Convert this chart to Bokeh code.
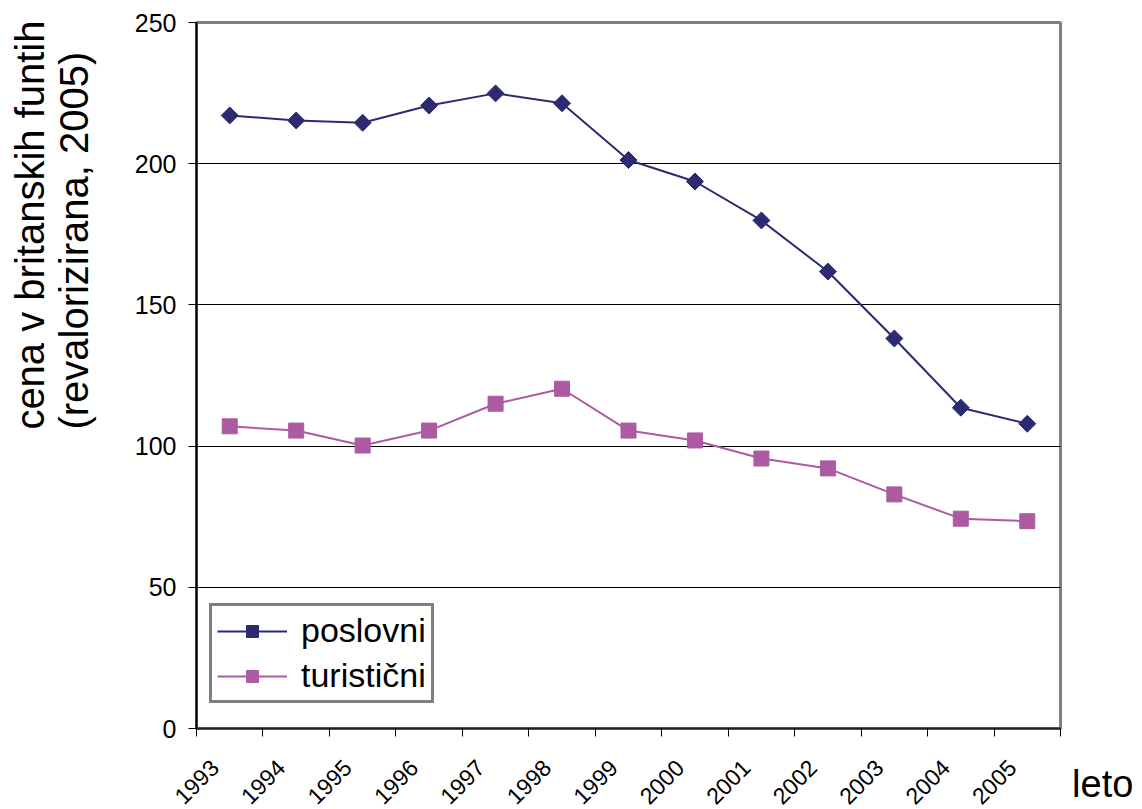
import numpy as np
from bokeh.plotting import figure
from bokeh.models import Range1d, FixedTicker, Legend, LegendItem, Title
from bokeh.embed import file_html
from bokeh.resources import INLINE

# ---- data ----
years = [1993, 1994, 1995, 1996, 1997, 1998, 1999, 2000, 2001, 2002, 2003, 2004, 2005]
poslovni = [217.1, 215.3, 214.5, 220.6, 224.9, 221.4, 201.3, 193.7, 179.9, 161.8, 138.1, 113.6, 107.9]
turisticni = [107.0, 105.5, 100.2, 105.5, 115.0, 120.3, 105.5, 102.0, 95.6, 92.1, 82.9, 74.3, 73.4]
y_ticks = [0, 50, 100, 150, 200, 250]
series_names = ["poslovni", "turistični"]
y_title_1 = "cena v britanskih funtih"
y_title_2 = "(revalorizirana, 2005)"
x_title = "leto"

FONT = "Liberation Sans"
NAVY = "#2C2A70"
PINK = "#AC5AA2"
SHIFT = 0.27  # labels sit right of the category boundary ticks

x_pts = [y + 0.5 - SHIFT for y in years]
boundaries = [y - SHIFT for y in years] + [years[-1] + 1 - SHIFT]

p = figure(width=1142, height=809, output_backend="svg", toolbar_location=None,
           x_range=Range1d(years[0] - SHIFT, years[-1] + 1 - SHIFT),
           y_range=Range1d(0, 250),
           min_border_left=196, min_border_right=82, min_border_top=22, min_border_bottom=81)
p.background_fill_color = "white"
p.border_fill_color = "white"
p.outline_line_color = "#808080"
p.outline_line_width = 3

# y axis
p.yaxis.ticker = FixedTicker(ticks=y_ticks)
p.yaxis.axis_line_color = "black"
p.yaxis.axis_line_width = 2
p.yaxis.major_tick_line_color = "black"
p.yaxis.major_tick_out = 8
p.yaxis.major_tick_in = 0
p.yaxis.minor_tick_line_color = None
p.yaxis.major_label_text_font = FONT
p.yaxis.major_label_text_font_size = "25px"
p.yaxis.major_label_text_color = "black"
p.yaxis.major_label_standoff = 12
p.yaxis.axis_label = " "
p.yaxis.axis_label_text_font_size = "10px"
p.yaxis.axis_label_standoff = 22

# x axis
p.xaxis.ticker = FixedTicker(ticks=years, minor_ticks=boundaries)
p.xaxis.axis_line_color = "#222222"
p.xaxis.axis_line_width = 2
p.xaxis.major_tick_line_color = None
p.xaxis.minor_tick_line_color = "black"
p.xaxis.minor_tick_out = 8
p.xaxis.minor_tick_in = 0
p.xaxis.major_label_orientation = np.pi / 4
p.xaxis.major_label_text_font = FONT
p.xaxis.major_label_text_font_size = "23px"
p.xaxis.major_label_text_color = "black"
p.xaxis.major_label_standoff = 27
# "leto" sits past the right end of the axis, level with the tick labels
# (leading no-break spaces push the centred label to the right of the axis end)
p.xaxis.axis_label = "\u00a0" * 8 + x_title
p.xaxis.axis_label_align = "end"
p.xaxis.axis_label_standoff = -52
p.xaxis.axis_label_text_font = FONT
p.xaxis.axis_label_text_font_size = "38px"
p.xaxis.axis_label_text_font_style = "normal"
p.xaxis.axis_label_text_color = "black"

p.xgrid.visible = False
p.ygrid.ticker = FixedTicker(ticks=y_ticks)
p.ygrid.grid_line_color = "black"
p.ygrid.grid_line_width = 1

# series
l1 = p.line(x_pts, poslovni, line_color=NAVY, line_width=2)
m1 = p.scatter(x_pts, poslovni, marker="square", angle=np.pi / 4, size=12,
               fill_color=NAVY, line_color=NAVY)
l2 = p.line(x_pts, turisticni, line_color=PINK, line_width=2)
m2 = p.scatter(x_pts, turisticni, marker="square", size=15,
               fill_color=PINK, line_color=PINK)

legend = Legend(items=[LegendItem(label=series_names[0], renderers=[l1, m1]),
                       LegendItem(label=series_names[1], renderers=[l2, m2])],
                location=(13, 25))
legend.border_line_color = "black"
legend.border_line_width = 3
legend.background_fill_color = "white"
legend.background_fill_alpha = 1
legend.label_text_font = FONT
legend.label_text_font_size = "34px"
legend.label_text_color = "black"
legend.glyph_width = 70
legend.glyph_height = 30
legend.label_height = 30
legend.label_standoff = 14
legend.spacing = 6
legend.padding = 5
legend.margin = 0
p.add_layout(legend, "center")

# y axis title (two lines, placed toward the top like the original)
ytitle = Title(text=y_title_1 + "\n" + y_title_2, align="right", offset=-2,
               vertical_align="bottom", standoff=0,
               text_font=FONT, text_font_size="40px", text_font_style="normal",
               text_color="black", text_line_height=1.0)
p.add_layout(ytitle, "left")

open("out.html", "w").write(file_html(p, INLINE))
